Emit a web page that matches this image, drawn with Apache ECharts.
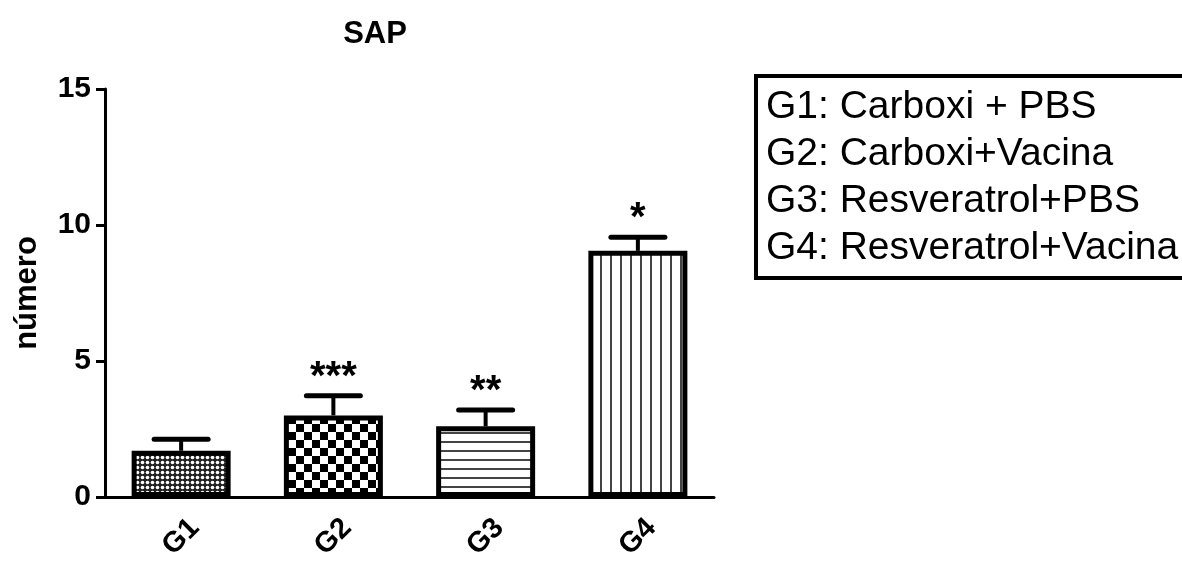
<!DOCTYPE html>
<html>
<head>
<meta charset="utf-8">
<script src="https://cdn.jsdelivr.net/npm/echarts@6/dist/echarts.min.js"></script>
<style>
html,body{margin:0;padding:0;background:#fff;}
#c{width:1182px;height:564px;}
</style>
</head>
<body>
<div id="c"></div>
<script>
// ---- data ----
var categories = ['G1', 'G2', 'G3', 'G4'];
var treatments = ['Carboxi + PBS', 'Carboxi+Vacina', 'Resveratrol+PBS', 'Resveratrol+Vacina'];
var means = [1.7, 3.0, 2.6, 9.05];
var errors = [0.42, 0.72, 0.6, 0.5];
var significance = ['', '***', '**', '*'];
var yTicks = [0, 5, 10, 15];

var FONT = '"Liberation Sans", Arial, Helvetica, sans-serif';

// ---- fill patterns ----
function makeCanvas(w, h, draw) {
  var c = document.createElement('canvas');
  c.width = w; c.height = h;
  draw(c.getContext('2d'), w, h);
  return c;
}
var patDots = makeCanvas(5, 5, function (g, w, h) {
  g.fillStyle = '#222'; g.fillRect(0, 0, w, h);
  g.fillStyle = '#fff';
  g.beginPath(); g.arc(2.5, 2.5, 1.8, 0, Math.PI * 2); g.fill();
});
var patChecker = makeCanvas(16, 16, function (g, w, h) {
  g.fillStyle = '#fff'; g.fillRect(0, 0, w, h);
  g.fillStyle = '#000';
  g.fillRect(0, 0, 8, 8); g.fillRect(8, 8, 8, 8);
});
var patHoriz = makeCanvas(4, 9, function (g, w, h) {
  g.fillStyle = '#fff'; g.fillRect(0, 0, w, h);
  g.fillStyle = '#444'; g.fillRect(0, 0, w, 2);
});
var patVert = makeCanvas(10, 4, function (g, w, h) {
  g.fillStyle = '#fff'; g.fillRect(0, 0, w, h);
  g.fillStyle = '#444'; g.fillRect(0, 0, 2, h);
});
var patterns = [patDots, patChecker, patHoriz, patVert];

var barData = means.map(function (v, i) {
  return {
    value: v,
    itemStyle: { color: { image: patterns[i], repeat: 'repeat' } }
  };
});
var errData = means.map(function (v, i) { return [i, v, v + errors[i]]; });

var legendText = categories.map(function (c, i) { return c + ': ' + treatments[i]; }).join('\n');

var chart = echarts.init(document.getElementById('c'), null, { renderer: 'canvas' });
chart.setOption({
  animation: false,
  backgroundColor: '#fff',
  title: [{
    text: 'SAP',
    left: 370, top: 14,
    textAlign: 'center',
    textStyle: { fontFamily: FONT, fontWeight: 'bold', fontSize: 31, color: '#000' }
  }, {
    text: legendText,
    left: 756, top: 76,
    padding: [8, 40, 6, 10],
    borderColor: '#000', borderWidth: 4,
    textStyle: { fontFamily: FONT, fontWeight: 'normal', fontSize: 39, lineHeight: 47, color: '#000' }
  }],
  grid: { left: 105, right: 468, top: 89, bottom: 67, containLabel: false },
  xAxis: {
    type: 'category',
    data: categories,
    boundaryGap: true,
    axisLine: { lineStyle: { color: '#000', width: 3 } },
    axisTick: { alignWithLabel: true, length: 11, lineStyle: { color: '#000', width: 3 } },
    axisLabel: {
      rotate: 45, align: 'center', verticalAlign: 'middle', margin: 40,
      fontFamily: FONT, fontWeight: 'bold', fontSize: 29, color: '#000'
    }
  },
  yAxis: {
    type: 'value',
    min: yTicks[0], max: yTicks[yTicks.length - 1], interval: 5,
    name: 'número',
    nameLocation: 'middle',
    nameGap: 62,
    nameTextStyle: { fontFamily: FONT, fontWeight: 'bold', fontSize: 31, color: '#000' },
    splitLine: { show: false },
    axisLine: { show: true, lineStyle: { color: '#000', width: 3 } },
    axisTick: { show: true, length: 9, lineStyle: { color: '#000', width: 3 } },
    axisLabel: { margin: 14, fontFamily: FONT, fontWeight: 'bold', fontSize: 30, color: '#000' }
  },
  series: [{
    type: 'bar',
    data: barData,
    barWidth: 99,
    itemStyle: { borderColor: '#000', borderWidth: 5 },
    z: 2
  }, {
    type: 'custom',
    data: errData,
    z: 3,
    renderItem: function (params, api) {
      var x = api.coord([api.value(0), api.value(1)])[0];
      var yb = api.coord([api.value(0), api.value(1)])[1];
      var yt = api.coord([api.value(0), api.value(2)])[1];
      var half = 27;
      var children = [{
        type: 'line',
        shape: { x1: x, y1: yb, x2: x, y2: yt },
        style: { stroke: '#000', lineWidth: 4 }
      }, {
        type: 'line',
        shape: { x1: x - half, y1: yt, x2: x + half, y2: yt },
        style: { stroke: '#000', lineWidth: 5, lineCap: 'round' }
      }];
      var s = significance[params.dataIndex];
      if (s) {
        children.push({
          type: 'text',
          style: {
            x: x, y: yt + 2, text: s,
            textAlign: 'center', textVerticalAlign: 'bottom',
            font: 'bold 40px ' + FONT, fill: '#000'
          }
        });
      }
      return { type: 'group', children: children };
    }
  }]
});
</script>
</body>
</html>
